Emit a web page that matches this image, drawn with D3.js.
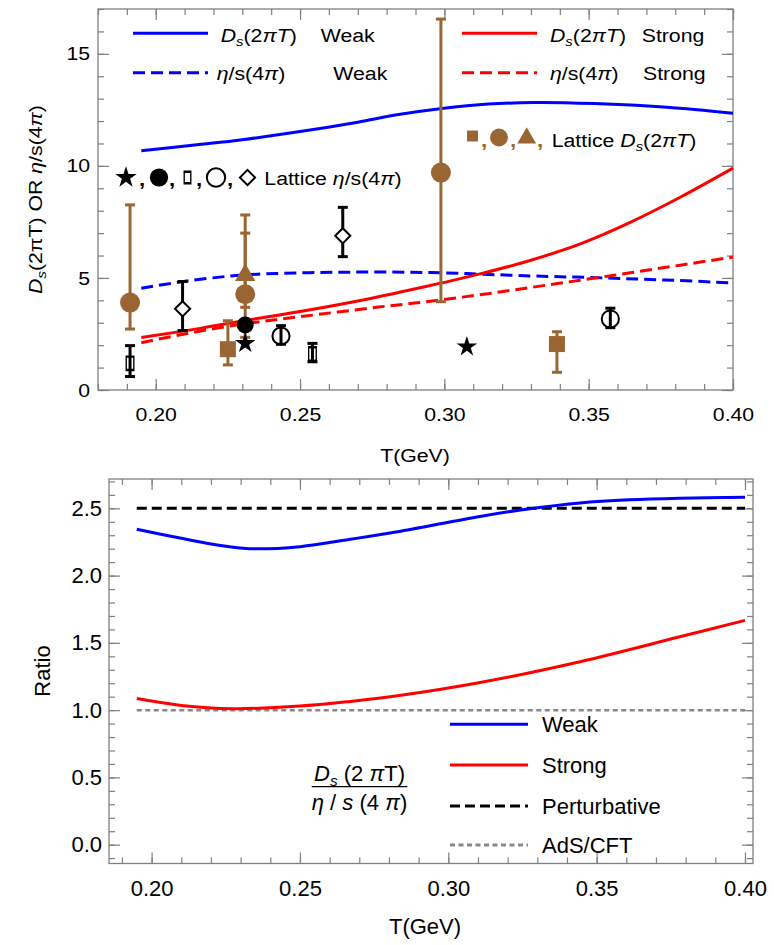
<!DOCTYPE html>
<html lang="en">
<head>
<meta charset="utf-8" />
<title>Ds(2piT) and eta/s(4pi) vs T</title>
<script src="https://cdn.jsdelivr.net/npm/d3@7"></script>
<style>
  body { margin: 0; background: white; }
  svg text { font-family: "Liberation Sans", Arial, sans-serif; fill: black; }
</style>
</head>
<body>
<script>

// ---- top panel curves: [T (GeV), value]
var dsWeak = [[0.195,10.67],[0.215,10.95],[0.23,11.17],[0.25,11.53],[0.27,11.95],[0.2847,12.3],
              [0.3078,12.68],[0.3309,12.83],[0.354,12.77],[0.3771,12.62],[0.40,12.35]];
var etaWeak = [[0.195,4.54],[0.2096,4.84],[0.2304,5.13],[0.2616,5.25],[0.2951,5.24],[0.3297,5.09],
               [0.3529,5.01],[0.376,4.91],[0.40,4.78]];
var dsStrong = [[0.195,2.34],[0.2154,2.75],[0.2304,3.09],[0.25,3.5],[0.2731,4.05],[0.2951,4.66],
                [0.3124,5.18],[0.3297,5.78],[0.3471,6.52],[0.3644,7.48],[0.3817,8.6],[0.40,9.9]];
var etaStrong = [[0.195,2.11],[0.21,2.5],[0.2304,2.95],[0.25,3.27],[0.2772,3.7],[0.2951,3.96],
                 [0.3124,4.25],[0.3297,4.57],[0.3471,4.9],[0.3644,5.23],[0.3817,5.57],[0.40,5.93]];

// ---- lattice points: T, value, error low / high
var latStar = [{T:0.231, v:2.08}, {T:0.3078, v:1.93}];
var latDot = [{T:0.231, v:2.9}];
var latRect = [{T:0.1911, v:1.19, lo:0.6, hi:1.98}, {T:0.2543, v:1.61, lo:1.26, hi:2.08}];
var latRing = [{T:0.2434, v:2.41, lo:2.04, hi:2.87}, {T:0.3575, v:3.17, lo:2.78, hi:3.65}];
var latDiamond = [{T:0.2093, v:3.62, lo:2.65, hi:4.84}, {T:0.2648, v:6.88, lo:5.95, hi:8.15}];
var latDsSquare = [{T:0.225, v:1.82, lo:1.12, hi:3.09}, {T:0.339, v:2.05, lo:0.79, hi:2.6}];
var latDsCircle = [{T:0.1911, v:3.9, lo:2.72, hi:8.26}, {T:0.231, v:4.27, lo:3.69, hi:7.0},
                   {T:0.2988, v:9.7, lo:3.94, hi:16.55}];
var latDsTriangle = [{T:0.231, v:5.13, lo:2.35, hi:7.81}];

// ---- bottom panel ratios
var ratioWeak = [[0.195,2.344],[0.21,2.277],[0.22,2.235],[0.233,2.2],[0.25,2.215],[0.267,2.27],
                 [0.284,2.33],[0.3107,2.44],[0.3275,2.497],[0.3444,2.54],[0.361,2.563],[0.378,2.575],[0.40,2.582]];
var ratioStrong = [[0.195,1.086],[0.21,1.035],[0.2275,1.011],[0.25,1.03],[0.267,1.065],[0.284,1.11],
                   [0.3107,1.205],[0.3444,1.36],[0.378,1.545],[0.40,1.667]];
var ratioPert = [[0.195,2.5],[0.40,2.5]];
var ratioAdS = [[0.195,1.0],[0.40,1.0]];

// ---- ticks
var xTicks = [0.20, 0.25, 0.30, 0.35, 0.40];
var yTicksTop = [0, 5, 10, 15];
var yTicksBottom = [0, 0.5, 1.0, 1.5, 2.0, 2.5];

var w = 774, h = 945;
var frameColor = "#808080";
var brown = "#996633";

var svg = d3.select("body").append("svg").attr("width", w).attr("height", h);

// text placed at x,y and stretched horizontally by sx
function stext(g, x, y, fs, sx, rot) {
  return g.append("text")
          .attr("transform", "translate(" + x + "," + y + ")" + (rot ? " rotate(" + rot + ")" : "") + " scale(" + sx + ",1)")
          .attr("font-size", fs);
}

// rich text: parts = [[text, style]] with style "", "i" or "sub"
function rich(sel, parts, fs) {
  var shift = 0;
  parts.forEach(function(p) {
    var t = sel.append("tspan").text(p[0]);
    if (p[1] == "i") t.attr("font-style", "italic");
    if (p[1] == "sub") {
      t.attr("font-style", "italic").attr("font-size", fs * 0.7).attr("dy", fs * 0.22);
      shift = fs * 0.22;
    } else if (shift) {
      t.attr("dy", -shift);
      shift = 0;
    }
  });
  return sel;
}

function frame(g, x, y, box, yMajor, xMinor, yMinor, fs, sx, xPad, yPad, yFmt) {
  g.append("rect")
   .attr("x", box.left).attr("y", box.top)
   .attr("width", box.right - box.left).attr("height", box.bottom - box.top)
   .attr("fill", "none").attr("stroke", frameColor).attr("stroke-width", 1.3);
  var specs = [
    [d3.axisBottom(x).tickValues(xTicks).tickSize(-11).tickPadding(xPad).tickFormat(d3.format(".2f")), "translate(0," + box.bottom + ")"],
    [d3.axisBottom(x).tickValues(xMinor).tickSize(-6).tickFormat(""), "translate(0," + box.bottom + ")"],
    [d3.axisTop(x).tickValues(xTicks).tickSize(-11).tickFormat(""), "translate(0," + box.top + ")"],
    [d3.axisTop(x).tickValues(xMinor).tickSize(-6).tickFormat(""), "translate(0," + box.top + ")"],
    [d3.axisLeft(y).tickValues(yMajor).tickSize(-11).tickPadding(yPad).tickFormat(yFmt), "translate(" + box.left + ",0)"],
    [d3.axisLeft(y).tickValues(yMinor).tickSize(-6).tickFormat(""), "translate(" + box.left + ",0)"],
    [d3.axisRight(y).tickValues(yMajor).tickSize(-11).tickFormat(""), "translate(" + box.right + ",0)"],
    [d3.axisRight(y).tickValues(yMinor).tickSize(-6).tickFormat(""), "translate(" + box.right + ",0)"]
  ];
  specs.forEach(function(s) {
    var a = g.append("g").attr("transform", s[1]).call(s[0]);
    a.select(".domain").remove();
    a.selectAll("line").attr("stroke", frameColor).attr("stroke-width", 1.2);
    a.selectAll("text").attr("font-size", fs).attr("font-family", "Liberation Sans, Arial, sans-serif")
     .attr("transform", "scale(" + sx + ",1)");
  });
}

function errBars(g, x, y, data, color) {
  var cap = 5;
  data.forEach(function(d) {
    if (d.lo === undefined) return;
    var cx = x(d.T);
    g.append("line").attr("x1", cx).attr("x2", cx).attr("y1", y(d.lo)).attr("y2", y(d.hi))
     .attr("stroke", color).attr("stroke-width", 3);
    [d.lo, d.hi].forEach(function(v) {
      g.append("line").attr("x1", cx - cap).attr("x2", cx + cap).attr("y1", y(v)).attr("y2", y(v))
       .attr("stroke", color).attr("stroke-width", 3);
    });
  });
}

// marker shapes
var shapes = {
  star: function(s) { return d3.symbol().type(d3.symbolStar).size(130 * s)(); },
  circle: function(s) { return d3.symbol().type(d3.symbolCircle).size(314 * s)(); },
  dot: function(s) { return d3.symbol().type(d3.symbolCircle).size(227 * s)(); },
  ring: function(s) { return d3.symbol().type(d3.symbolCircle).size(230 * s)(); },
  square: function(s) { return d3.symbol().type(d3.symbolSquare).size(256 * s)(); },
  triangle: function(s) { return d3.symbol().type(d3.symbolTriangle).size(180 * s)(); },
  rect: function(s) { return d3.symbol().type(d3.symbolSquare).size(150 * s)(); },
  diamond: function(s) { return d3.symbol().type(d3.symbolSquare).size(115 * s)(); }
};
var markStyle = {
  star: {fill: "black", stroke: "none", extra: ""},
  dot: {fill: "black", stroke: "none", extra: ""},
  rect: {fill: "none", stroke: "black", extra: " scale(0.62,1.1)"},
  ring: {fill: "none", stroke: "black", extra: ""},
  diamond: {fill: "white", stroke: "black", extra: " rotate(45)"},
  square: {fill: brown, stroke: "none", extra: ""},
  circle: {fill: brown, stroke: "none", extra: ""},
  triangle: {fill: brown, stroke: "none", extra: ""}
};
function marker(g, kind, cx, cy, s) {
  var st = markStyle[kind];
  var sw = kind == "rect" ? 2.2 : 2;
  g.append("path").attr("d", shapes[kind](s))
   .attr("transform", "translate(" + cx + "," + cy + ")" + st.extra)
   .attr("fill", st.fill).attr("stroke", st.stroke).attr("stroke-width", sw);
}
function points(g, x, y, data, kind) {
  data.forEach(function(d) { marker(g, kind, x(d.T), y(d.v), 1); });
}

// =================== top panel ===================
var b1 = {left: 98, right: 733, top: 9, bottom: 390};
var x1 = d3.scaleLinear().domain([0.18, 0.40]).range([b1.left, b1.right]);
var y1 = d3.scaleLinear().domain([0, 17]).range([b1.bottom, b1.top]);
var g1 = svg.append("g");
var fs1 = 19, sx1 = 1.12;

frame(g1, x1, y1, b1, yTicksTop, d3.range(0.18, 0.405, 0.01), d3.range(0, 17.5, 1), fs1, sx1, 18, 7, d3.format("d"));

var line1 = d3.line().x(function(d) { return x1(d[0]); }).y(function(d) { return y1(d[1]); })
              .curve(d3.curveCatmullRom.alpha(0.5));
var curves1 = [
  [dsWeak, "#0000ff", null], [etaWeak, "#0000ff", "12,6"],
  [dsStrong, "#ff0000", null], [etaStrong, "#ff0000", "12,6"]
];
curves1.forEach(function(c) {
  g1.append("path").attr("d", line1(c[0])).attr("fill", "none")
    .attr("stroke", c[1]).attr("stroke-width", 3).attr("stroke-dasharray", c[2]);
});

errBars(g1, x1, y1, latDsCircle, brown);
errBars(g1, x1, y1, latDsTriangle, brown);
errBars(g1, x1, y1, latDsSquare, brown);
errBars(g1, x1, y1, latRect, "black");
errBars(g1, x1, y1, latRing, "black");
errBars(g1, x1, y1, latDiamond, "black");
points(g1, x1, y1, latDsTriangle, "triangle");
points(g1, x1, y1, latDsCircle, "circle");
points(g1, x1, y1, latDsSquare, "square");
points(g1, x1, y1, latDot, "dot");
points(g1, x1, y1, latStar, "star");
points(g1, x1, y1, latRect, "rect");
points(g1, x1, y1, latRing, "ring");
points(g1, x1, y1, latDiamond, "diamond");

// legend, top panel
function legLine(g, x0, x1_, yy, color, dash) {
  g.append("line").attr("x1", x0).attr("x2", x1_).attr("y1", yy).attr("y2", yy)
   .attr("stroke", color).attr("stroke-width", 3).attr("stroke-dasharray", dash);
}
var dsParts = [["D", "i"], ["s", "sub"], ["(2", ""], ["\u03c0", "i"], ["T", "i"], [")", ""]];
var etaParts = [["\u03b7", "i"], ["/s(4", ""], ["\u03c0", "i"], [")", ""]];

legLine(g1, 133, 208, 33.3, "#0000ff", null);
rich(stext(g1, 220.7, 41.7, fs1, sx1), dsParts, fs1);
stext(g1, 320.7, 41.7, fs1, sx1).text("Weak");
legLine(g1, 133, 208, 72.7, "#0000ff", "12,6");
rich(stext(g1, 216.7, 80, fs1, sx1), etaParts, fs1);
stext(g1, 333.3, 80, fs1, sx1).text("Weak");

legLine(g1, 462, 537, 33.3, "#ff0000", null);
rich(stext(g1, 550, 41.7, fs1, sx1), dsParts, fs1);
stext(g1, 641.7, 41.7, fs1, sx1).text("Strong");
legLine(g1, 462, 537, 72.7, "#ff0000", "12,6");
rich(stext(g1, 550, 80, fs1, sx1), etaParts, fs1);
stext(g1, 643, 80, fs1, sx1).text("Strong");

// lattice legend rows
marker(g1, "square", 472.5, 136, 0.47);
marker(g1, "circle", 499, 137.5, 0.8);
marker(g1, "triangle", 526.7, 138, 0.85);
[481, 510, 537].forEach(function(cx) {
  stext(g1, cx, 146.7, fs1 + 1, sx1).attr("font-weight", "bold").style("fill", brown).text(",");
});
rich(stext(g1, 551.7, 146.7, fs1, sx1), [["Lattice ", ""]].concat(dsParts), fs1);

marker(g1, "star", 126, 177.5, 1.1);
marker(g1, "dot", 159, 177.5, 1.15);
marker(g1, "rect", 187.5, 177.5, 0.75);
marker(g1, "ring", 216, 177.5, 1.15);
marker(g1, "diamond", 247.5, 177.5, 1.0);
[139, 169, 196, 227].forEach(function(cx) {
  stext(g1, cx, 186, fs1 + 1, sx1).attr("font-weight", "bold").text(",");
});
rich(stext(g1, 264.3, 185, fs1, sx1), [["Lattice ", ""]].concat(etaParts), fs1);

// axis labels, top panel
rich(stext(g1, 42, 199.5, fs1, sx1, -90).attr("text-anchor", "middle"),
     [["D", "i"], ["s", "sub"], ["(2\u03c0T) OR ", ""], ["\u03b7", "i"], ["/s(4", ""], ["\u03c0", "i"], [")", ""]], fs1);

svg.append("clipPath").attr("id", "cutTop").append("rect")
   .attr("x", 0).attr("y", 0).attr("width", w).attr("height", 466);
g1.append("g").attr("clip-path", "url(#cutTop)").call(function(c) {
  stext(c, 415, 462, fs1, sx1).attr("text-anchor", "middle").text("T(GeV)");
});

// =================== bottom panel ===================
var b2 = {left: 109, right: 753, top: 479, bottom: 863.5};
var x2 = d3.scaleLinear().domain([0.18564, 0.4027]).range([b2.left, b2.right]);
var y2 = d3.scaleLinear().domain([-0.14, 2.718]).range([b2.bottom, b2.top]);
var g2 = svg.append("g");
var fs2 = 22;

frame(g2, x2, y2, b2, yTicksBottom, d3.range(0.19, 0.405, 0.01), d3.range(-0.1, 2.75, 0.1), fs2, 1, 16.5, 7, d3.format(".1f"));

var line2 = d3.line().x(function(d) { return x2(d[0]); }).y(function(d) { return y2(d[1]); })
              .curve(d3.curveCatmullRom.alpha(0.5));
var curves2 = [
  [ratioAdS, "#888888", "5,3.5", 2.5],
  [ratioPert, "black", "10,5", 3],
  [ratioWeak, "#0000ff", null, 3],
  [ratioStrong, "#ff0000", null, 3]
];
curves2.forEach(function(c) {
  g2.append("path").attr("d", line2(c[0])).attr("fill", "none")
    .attr("stroke", c[1]).attr("stroke-width", c[3]).attr("stroke-dasharray", c[2]);
});

// legend, bottom panel
var leg2 = [["Weak", "#0000ff", null, 724.3], ["Strong", "#ff0000", null, 765],
            ["Perturbative", "black", "10,5", 806], ["AdS/CFT", "#888888", "5,3.5", 845]];
leg2.forEach(function(l) {
  g2.append("line").attr("x1", 450).attr("x2", 528).attr("y1", l[3]).attr("y2", l[3])
    .attr("stroke", l[1]).attr("stroke-width", 3).attr("stroke-dasharray", l[2]);
  g2.append("text").attr("x", 542).attr("y", l[3] + 7.5).attr("font-size", fs2).text(l[0]);
});

// fraction label
rich(g2.append("text").attr("x", 359.5).attr("y", 781).attr("text-anchor", "middle").attr("font-size", fs2),
     [["D", "i"], ["s", "sub"], [" (2 ", ""], ["\u03c0", "i"], ["T)", ""]], fs2);
g2.append("line").attr("x1", 311.7).attr("x2", 407.3).attr("y1", 786.7).attr("y2", 786.7)
  .attr("stroke", "black").attr("stroke-width", 1.3);
rich(g2.append("text").attr("x", 359.5).attr("y", 810).attr("text-anchor", "middle").attr("font-size", fs2),
     [["\u03b7", "i"], [" / ", ""], ["s", "i"], [" (4 ", ""], ["\u03c0", "i"], [")", ""]], fs2);

// axis labels, bottom panel
g2.append("text").attr("transform", "translate(50,671) rotate(-90)").attr("text-anchor", "middle")
  .attr("font-size", fs2).text("Ratio");
g2.append("text").attr("x", 425).attr("y", 934).attr("text-anchor", "middle")
  .attr("font-size", fs2).text("T(GeV)");

</script>
</body>
</html>
